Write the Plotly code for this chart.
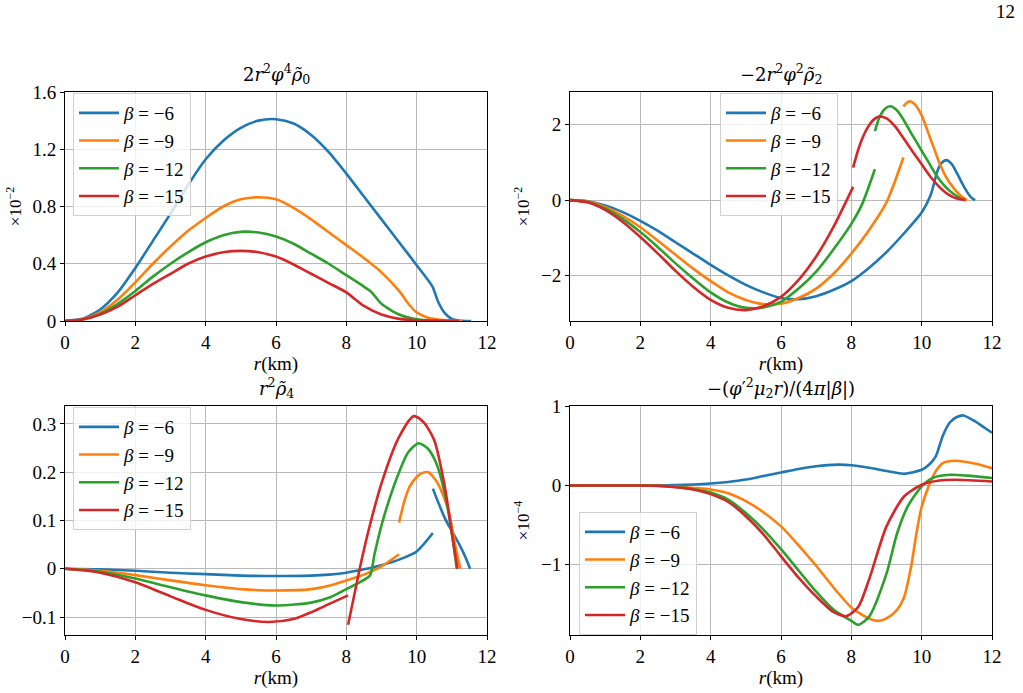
import plotly.graph_objects as go

# ---------------- data ----------------
BETAS = ["−6", "−9", "−12", "−15"]
COLORS = ["#1f77b4", "#ff7f0e", "#2ca02c", "#d62728"]

# Panel A: 2 r^2 phi^4 rho0  (x 1e-2)
A_R6 = [0, 0.5, 1, 1.5, 2, 2.5, 3, 3.5, 4, 4.5, 5, 5.5, 6, 6.5, 7, 7.5, 8, 8.5, 9, 9.5, 10, 10.45, 10.6, 10.8, 11, 11.2, 11.55]
A_Y6 = [0, 0.015, 0.08, 0.2, 0.37, 0.56, 0.75, 0.95, 1.13, 1.26, 1.35, 1.40, 1.41, 1.38, 1.30, 1.18, 1.03, 0.87, 0.71, 0.55, 0.39, 0.24, 0.14, 0.055, 0.015, 0.004, 0]
A_R9 = [0, 0.5, 1, 1.5, 2, 2.5, 3, 3.5, 4, 4.5, 5, 5.5, 6, 6.5, 7, 7.5, 8, 8.5, 9, 9.5, 9.8, 10, 10.3, 10.6, 11, 11.3]
A_Y9 = [0, 0.012, 0.06, 0.15, 0.27, 0.4, 0.52, 0.63, 0.72, 0.8, 0.85, 0.865, 0.85, 0.79, 0.71, 0.62, 0.53, 0.44, 0.34, 0.21, 0.11, 0.06, 0.025, 0.01, 0.003, 0]
A_R12 = [0, 0.5, 1, 1.5, 2, 2.5, 3, 3.5, 4, 4.5, 5, 5.5, 6, 6.5, 7, 7.5, 8, 8.5, 8.7, 9, 9.5, 10, 10.5, 11.2]
A_Y12 = [0, 0.01, 0.05, 0.12, 0.21, 0.31, 0.40, 0.48, 0.55, 0.60, 0.623, 0.618, 0.59, 0.54, 0.47, 0.40, 0.32, 0.24, 0.205, 0.12, 0.045, 0.012, 0.003, 0]
A_R15 = [0, 0.5, 1, 1.5, 2, 2.5, 3, 3.5, 4, 4.5, 5, 5.5, 6, 6.5, 7, 7.5, 8, 8.5, 9, 9.5, 10, 10.5, 11.2]
A_Y15 = [0, 0.01, 0.045, 0.1, 0.18, 0.26, 0.33, 0.4, 0.45, 0.48, 0.49, 0.48, 0.45, 0.395, 0.33, 0.265, 0.2, 0.105, 0.045, 0.015, 0.005, 0.001, 0]

# Panel B: -2 r^2 phi^2 rho2  (x 1e-2), list of segments
B_R6 = [[0, 0.5, 1, 1.5, 2, 2.5, 3, 3.5, 4, 4.5, 5, 5.5, 6, 6.5, 7, 7.5, 8, 8.5, 9, 9.5, 10, 10.25, 10.45, 10.55, 10.7, 10.85, 11, 11.2, 11.4, 11.52]]
B_Y6 = [[0, -0.03, -0.14, -0.32, -0.55, -0.82, -1.12, -1.42, -1.72, -2.0, -2.25, -2.45, -2.6, -2.63, -2.55, -2.38, -2.15, -1.8, -1.38, -0.88, -0.33, 0.12, 0.78, 0.97, 1.06, 0.96, 0.72, 0.36, 0.08, 0]]
B_R9 = [[0, 0.5, 1, 1.5, 2, 2.5, 3, 3.5, 4, 4.5, 5, 5.5, 6, 6.5, 7, 7.5, 8, 8.5, 9, 9.48],
        [9.48, 9.6, 9.69, 9.8, 10.0, 10.24, 10.4, 10.52, 10.7, 10.9, 11.1, 11.29]]
B_Y9 = [[0, -0.04, -0.18, -0.42, -0.72, -1.08, -1.45, -1.82, -2.15, -2.45, -2.65, -2.76, -2.75, -2.6, -2.35, -1.95, -1.42, -0.8, -0.06, 1.13],
        [2.49, 2.6, 2.62, 2.55, 2.25, 1.65, 1.25, 0.95, 0.6, 0.33, 0.12, 0]]
B_R12 = [[0, 0.5, 1, 1.5, 2, 2.5, 3, 3.5, 4, 4.5, 5, 5.5, 6, 6.5, 7, 7.5, 8, 8.3, 8.67],
         [8.67, 8.8, 8.95, 9.11, 9.3, 9.48, 9.7, 9.95, 10.2, 10.43, 10.65, 10.9, 11.2]]
B_Y12 = [[0, -0.05, -0.22, -0.5, -0.85, -1.25, -1.68, -2.08, -2.45, -2.72, -2.86, -2.85, -2.7, -2.35, -1.9, -1.3, -0.63, -0.12, 0.82],
         [1.83, 2.2, 2.42, 2.49, 2.38, 2.14, 1.78, 1.39, 1.0, 0.64, 0.38, 0.17, 0]]
B_R15 = [[0, 0.5, 1, 1.5, 2, 2.5, 3, 3.5, 4, 4.5, 5, 5.5, 6, 6.5, 7, 7.5, 8.05],
         [8.05, 8.2, 8.35, 8.5, 8.65, 8.8, 9.0, 9.25, 9.5, 9.75, 10.0, 10.25, 10.5, 10.75, 11.0, 11.24]]
B_Y15 = [[0, -0.06, -0.26, -0.58, -0.98, -1.42, -1.88, -2.3, -2.65, -2.86, -2.92, -2.82, -2.57, -2.12, -1.5, -0.7, 0.35],
         [0.86, 1.35, 1.72, 1.98, 2.15, 2.22, 2.17, 1.95, 1.62, 1.28, 0.95, 0.62, 0.35, 0.15, 0.04, 0]]

# Panel C: r^2 rho4
C_R6 = [[0, 1, 2, 3, 4, 5, 6, 7, 7.5, 8, 8.5, 9, 9.5, 10, 10.46],
        [10.46, 10.6, 10.8, 11.0, 11.2, 11.4, 11.52]]
C_Y6 = [[0, -0.001, -0.004, -0.008, -0.011, -0.014, -0.015, -0.014, -0.012, -0.008, -0.001, 0.0075, 0.019, 0.036, 0.074],
        [0.166, 0.14, 0.105, 0.078, 0.052, 0.022, 0]]
C_R9 = [[0, 1, 2, 3, 4, 5, 6, 7, 7.5, 8, 8.5, 9, 9.5],
        [9.5, 9.65, 9.8, 10.0, 10.15, 10.33, 10.6, 10.9, 11.1, 11.24]]
C_Y9 = [[0, -0.004, -0.013, -0.024, -0.034, -0.042, -0.045, -0.042, -0.035, -0.024, -0.012, 0.005, 0.03],
        [0.096, 0.14, 0.17, 0.19, 0.198, 0.2, 0.177, 0.122, 0.047, 0]]
C_R12 = [[0, 1, 2, 3, 4, 5, 6, 7, 7.5, 8, 8.4, 8.67, 8.8, 9.0, 9.25, 9.5, 9.75, 10.05, 10.3, 10.55, 10.8, 11.0, 11.14]]
C_Y12 = [[0, -0.006, -0.02, -0.038, -0.055, -0.069, -0.076, -0.07, -0.06, -0.042, -0.027, -0.014, 0.03, 0.09, 0.15, 0.2, 0.24, 0.26, 0.25, 0.22, 0.156, 0.074, 0]]
C_R15 = [[0, 1, 2, 3, 4, 5, 5.8, 6.5, 7, 7.5, 8.05],
         [8.05, 8.38, 8.6, 9.0, 9.5, 9.92, 10.2, 10.5, 10.8, 11.0, 11.16]]
C_Y15 = [[0, -0.008, -0.028, -0.057, -0.085, -0.104, -0.11, -0.104, -0.09, -0.073, -0.055],
         [-0.116, 0, 0.07, 0.177, 0.273, 0.316, 0.303, 0.266, 0.17, 0.074, 0]]

# Panel D: -(phi'^2 mu2 r)/(4 pi |beta|)  (x 1e-4)
D_R6 = [0, 1, 2, 2.5, 3, 3.5, 4, 4.5, 5, 5.5, 6, 6.5, 7, 7.6, 8, 8.5, 9, 9.5, 10, 10.2, 10.4, 10.6, 10.8, 11.0, 11.19, 11.5, 11.8, 12]
D_Y6 = [0, 0, 0, 0.002, 0.006, 0.013, 0.025, 0.045, 0.075, 0.12, 0.165, 0.21, 0.245, 0.265, 0.258, 0.225, 0.185, 0.15, 0.2, 0.26, 0.37, 0.63, 0.8, 0.87, 0.89, 0.82, 0.73, 0.67]
D_R9 = [0, 2, 2.5, 3, 3.5, 4, 4.5, 5, 5.5, 6, 6.5, 7, 7.5, 8, 8.5, 8.75, 9, 9.3, 9.5, 9.7, 9.85, 10, 10.2, 10.4, 10.6, 10.95, 11.5, 12]
D_Y9 = [0, 0, -0.003, -0.012, -0.03, -0.05, -0.1, -0.2, -0.34, -0.52, -0.76, -1.02, -1.3, -1.55, -1.69, -1.72, -1.69, -1.58, -1.42, -1.03, -0.61, -0.27, -0.01, 0.18, 0.285, 0.315, 0.28, 0.22]
D_R12 = [0, 2, 2.5, 3, 3.5, 4, 4.5, 5, 5.5, 6, 6.5, 7, 7.5, 8, 8.19, 8.5, 9, 9.3, 9.6, 10, 10.3, 10.8, 11.3, 12]
D_Y12 = [0, 0, -0.004, -0.018, -0.045, -0.09, -0.18, -0.35, -0.56, -0.81, -1.08, -1.35, -1.58, -1.72, -1.77, -1.67, -1.12, -0.61, -0.27, -0.01, 0.094, 0.136, 0.125, 0.094]
D_R15 = [0, 2, 2.5, 3, 3.5, 4, 4.5, 5, 5.5, 6, 6.5, 7, 7.5, 7.86, 8.2, 8.5, 9, 9.5, 10, 10.5, 11, 12]
D_Y15 = [0, 0, -0.005, -0.022, -0.05, -0.11, -0.21, -0.39, -0.62, -0.9, -1.17, -1.41, -1.61, -1.66, -1.54, -1.2, -0.52, -0.14, 0.01, 0.064, 0.072, 0.05]

TITLES = [
    "2<i>r</i><sup>2</sup><i>φ</i><sup>4</sup><i>ρ̃</i><sub>0</sub>",
    "−2<i>r</i><sup>2</sup><i>φ</i><sup>2</sup><i>ρ̃</i><sub>2</sub>",
    "<i>r</i><sup>2</sup><i>ρ̃</i><sub>4</sub>",
    "−(<i>φ</i>′<sup>2</sup><i>μ</i><sub>2</sub><i>r</i>)/(4<i>π</i>|<i>β</i>|)",
]
YTITLES = ["×10<sup>−2</sup>", "×10<sup>−2</sup>", "", "×10<sup>−4</sup>"]
YTICKS = [[0, 0.4, 0.8, 1.2, 1.6], [-2, 0, 2], [-0.1, 0, 0.1, 0.2, 0.3], [-1, 0, 1]]
YTICKTEXT = [["0", "0.4", "0.8", "1.2", "1.6"], ["−2", "0", "2"], ["−0.1", "0", "0.1", "0.2", "0.3"], ["−1", "0", "1"]]
YRANGES = [[0, 1.6], [-3.21, 2.87], [-0.137, 0.337], [-1.9, 1.01]]
XTICKS = [0, 2, 4, 6, 8, 10, 12]

# ---------------- layout geometry ----------------
W, H = 1023, 693
FONT = "Liberation Serif, DejaVu Serif, serif"
TFONT = "DejaVu Serif, Liberation Serif, serif"
XDOM = [[65 / W, 487 / W], [570 / W, 992 / W], [65 / W, 487 / W], [570 / W, 992 / W]]
YDOM = [[1 - 321 / H, 1 - 92 / H], [1 - 321 / H, 1 - 92 / H], [1 - 635 / H, 1 - 406 / H], [1 - 635 / H, 1 - 406 / H]]
LEGPOS = [(73 / W, 1 - 93 / H), (720 / W, 1 - 93 / H), (73 / W, 1 - 407 / H), (579 / W, 1 - 512 / H)]


def join(segs):
    out = []
    for i, s in enumerate(segs):
        if i:
            out.append(None)
        out.extend(s)
    return out


panels = [
    [([A_R6], [A_Y6]), ([A_R9], [A_Y9]), ([A_R12], [A_Y12]), ([A_R15], [A_Y15])],
    [(B_R6, B_Y6), (B_R9, B_Y9), (B_R12, B_Y12), (B_R15, B_Y15)],
    [(C_R6, C_Y6), (C_R9, C_Y9), (C_R12, C_Y12), (C_R15, C_Y15)],
    [([D_R6], [D_Y6]), ([D_R9], [D_Y9]), ([D_R12], [D_Y12]), ([D_R15], [D_Y15])],
]

fig = go.Figure()
for p, series in enumerate(panels):
    ax = "" if p == 0 else str(p + 1)
    leg = "legend" if p == 0 else f"legend{p + 1}"
    for k, (rs, ys) in enumerate(series):
        fig.add_trace(go.Scatter(
            x=join(rs), y=join(ys), mode="lines",
            line=dict(color=COLORS[k], width=2.6, shape="spline", smoothing=0.7),
            connectgaps=False,
            name=f"<i>β</i> = {BETAS[k]}",
            xaxis="x" + ax, yaxis="y" + ax, legend=leg,
        ))

layout = dict(
    width=W, height=H, margin=dict(l=0, r=0, t=0, b=0, autoexpand=False),
    paper_bgcolor="white", plot_bgcolor="white",
    font=dict(family=FONT, size=19, color="black"),
    showlegend=True,
)
ann = []
for p in range(4):
    ax = "" if p == 0 else str(p + 1)
    layout["xaxis" + ax] = dict(
        domain=XDOM[p], range=[0, 12], anchor="y" + ax, automargin=False,
        tickvals=XTICKS, ticks="outside", ticklen=4, tickcolor="black",
        showline=True, linecolor="black", linewidth=1.1, mirror=True,
        showgrid=True, gridcolor="#b8b8b8", gridwidth=1, zeroline=False,
        tickfont=dict(family=FONT, size=19),
        title=dict(text="<i>r</i>(km)", font=dict(family=FONT, size=19), standoff=0),
    )
    layout["yaxis" + ax] = dict(
        domain=YDOM[p], range=YRANGES[p], anchor="x" + ax, automargin=False,
        tickvals=YTICKS[p], ticktext=YTICKTEXT[p], ticks="outside", ticklen=4, tickcolor="black",
        showline=True, linecolor="black", linewidth=1.1, mirror=True,
        showgrid=True, gridcolor="#b8b8b8", gridwidth=1, zeroline=False,
        tickfont=dict(family=FONT, size=19),
        title=dict(text=YTITLES[p], font=dict(family=FONT, size=17), standoff=6),
    )
    leg = "legend" if p == 0 else f"legend{p + 1}"
    layout[leg] = dict(
        x=LEGPOS[p][0], y=LEGPOS[p][1], xanchor="left", yanchor="top",
        xref="paper", yref="paper",
        bgcolor="rgba(255,255,255,0.8)", bordercolor="#d0d0d0", borderwidth=1,
        font=dict(family=FONT, size=19), itemwidth=40, tracegroupgap=0,
    )
    ann.append(dict(
        text=TITLES[p], xref="paper", yref="paper",
        x=(XDOM[p][0] + XDOM[p][1]) / 2, y=YDOM[p][1] + 3 / H,
        xanchor="center", yanchor="bottom", showarrow=False,
        font=dict(family=TFONT, size=18),
    ))
ann.append(dict(text="12", xref="paper", yref="paper", x=1005 / W, y=1 - 12 / H,
                xanchor="center", yanchor="middle", showarrow=False,
                font=dict(family=FONT, size=19)))
layout["annotations"] = ann
fig.update_layout(**layout)
fig.write_html("out.html")
